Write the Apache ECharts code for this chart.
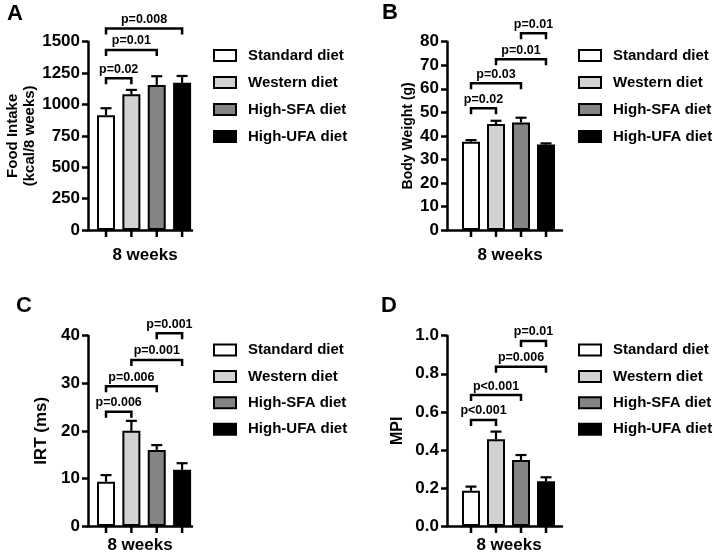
<!DOCTYPE html>
<html>
<head>
<meta charset="utf-8">
<script src="https://cdn.jsdelivr.net/npm/echarts@6/dist/echarts.min.js"></script>
<style>
html,body{margin:0;padding:0;background:#fff;}
#chart{width:714px;height:559px;}
</style>
</head>
<body>
<div id="chart"></div>
<script>
// ---------- data ----------
const diets = ['Standard diet', 'Western diet', 'High-SFA diet', 'High-UFA diet'];
const slots = [1, 2, 3, 4];

const foodMean = [915, 1081, 1155, 1172];
const foodErr = [55, 35, 70, 55];
const weightMean = [37.5, 45.0, 45.7, 36.3];
const weightErr = [0.7, 1.4, 2.0, 0.5];
const irtMean = [9.3, 20.0, 16.0, 11.8];
const irtErr = [1.4, 2.1, 1.0, 1.4];
const mpiMean = [0.185, 0.456, 0.347, 0.235];
const mpiErr = [0.022, 0.040, 0.026, 0.021];

// brackets: [fromBar, toBar, height]
const foodBrackets = [[0, 1, 1208], [0, 2, 1434], [0, 3, 1606]];
const foodLabels = ['p=0.02', 'p=0.01', 'p=0.008'];
const weightBrackets = [[0, 1, 51.7], [0, 2, 62.3], [1, 3, 72.5], [2, 3, 83.6]];
const weightLabels = ['p=0.02', 'p=0.03', 'p=0.01', 'p=0.01'];
const irtBrackets = [[0, 1, 24.0], [0, 2, 29.4], [1, 3, 34.9], [2, 3, 40.5]];
const irtLabels = ['p=0.006', 'p=0.006', 'p=0.001', 'p=0.001'];
const mpiBrackets = [[0, 1, 0.557], [0, 2, 0.688], [1, 3, 0.837], [2, 3, 0.972]];
const mpiLabels = ['p<0.001', 'p<0.001', 'p=0.006', 'p=0.01'];

const foodTicks = {min: 0, max: 1500, interval: 250};
const weightTicks = {min: 0, max: 80, interval: 10};
const irtTicks = {min: 0, max: 40, interval: 10};
const mpiTicks = {min: 0, max: 1, interval: 0.2};

const xLabel = '8 weeks';

// ---------- styles ----------
const FONT = '"Liberation Sans", Arial, Helvetica, sans-serif';
const barColors = ['#ffffff', '#d2d2d2', '#848484', '#000000'];

const panels = [
  {letter: 'A', mean: foodMean, err: foodErr, br: foodBrackets, bl: foodLabels, ticks: foodTicks,
   name: 'Food Intake\n(kcal/8 weeks)', nameSize: 15, nameGap: 50, fmt: v => String(v),
   grid: {left: 88, top: 41.7, width: 104, height: 188.3}, xr: [0.29, 4.39],
   legend: {left: 213, top: 48, gap: 12}, letterPos: [16, 13], xlPos: [145, 255]},
  {letter: 'B', mean: weightMean, err: weightErr, br: weightBrackets, bl: weightLabels, ticks: weightTicks,
   name: 'Body Weight (g)', nameSize: 14, nameGap: 31, fmt: v => String(v),
   grid: {left: 447, top: 41.7, width: 115, height: 188.3}, xr: [0.04, 4.64],
   legend: {left: 578, top: 48, gap: 12}, letterPos: [391, 12], xlPos: [510, 255]},
  {letter: 'C', mean: irtMean, err: irtErr, br: irtBrackets, bl: irtLabels, ticks: irtTicks,
   name: 'IRT (ms)', nameSize: 17, nameGap: 37, fmt: v => String(v),
   grid: {left: 88, top: 335.7, width: 104, height: 190.3}, xr: [0.29, 4.39],
   legend: {left: 213, top: 342.5, gap: 11.4}, letterPos: [25, 305], xlPos: [140, 545]},
  {letter: 'D', mean: mpiMean, err: mpiErr, br: mpiBrackets, bl: mpiLabels, ticks: mpiTicks,
   name: 'MPI', nameSize: 16, nameGap: 40, fmt: v => v.toFixed(1),
   grid: {left: 447, top: 335.7, width: 115, height: 190.3}, xr: [0.04, 4.64],
   legend: {left: 578, top: 342.5, gap: 11.4}, letterPos: [390, 305], xlPos: [509, 545]}
];

const option = {
  backgroundColor: '#fff',
  animation: false,
  textStyle: {fontFamily: FONT},
  grid: [], xAxis: [], yAxis: [], series: [], legend: [], graphic: []
};

panels.forEach((p, pi) => {
  option.grid.push(Object.assign({containLabel: false}, p.grid));
  option.xAxis.push({
    type: 'value', gridIndex: pi, min: p.xr[0], max: p.xr[1],
    axisLine: {show: true, onZero: true, lineStyle: {color: '#000', width: 2.5}},
    axisTick: {show: false}, axisLabel: {show: false}, splitLine: {show: false}
  });
  option.yAxis.push({
    type: 'value', gridIndex: pi, min: p.ticks.min, max: p.ticks.max, interval: p.ticks.interval,
    name: p.name, nameLocation: 'middle', nameRotate: 90, nameGap: p.nameGap,
    nameTextStyle: {fontFamily: FONT, fontWeight: 'bold', fontSize: p.nameSize, color: '#000', lineHeight: p.nameSize + 2},
    axisLine: {show: true, lineStyle: {color: '#000', width: 2.5}},
    axisTick: {show: true, length: 6, lineStyle: {color: '#000', width: 2.5}},
    axisLabel: {color: '#000', fontFamily: FONT, fontWeight: 'bold', fontSize: 17, margin: 8, formatter: p.fmt},
    splitLine: {show: false}
  });
  diets.forEach((d, i) => {
    option.series.push({
      type: 'bar', name: d, xAxisIndex: pi, yAxisIndex: pi,
      barWidth: 18, barGap: '-100%',
      itemStyle: {color: barColors[i], borderColor: '#000', borderWidth: 2},
      data: [[slots[i], p.mean[i]]],
      z: 2
    });
  });
  // error bars + x ticks
  option.series.push({
    type: 'custom', xAxisIndex: pi, yAxisIndex: pi, clip: false, z: 3,
    data: slots.map((s, i) => [s, p.mean[i], p.err[i]]),
    renderItem: (params, api) => {
      const x = api.value(0), m = api.value(1), e = api.value(2);
      const top = api.coord([x, m]);
      const cap = api.coord([x, m + e]);
      const base = api.coord([x, 0]);
      const st = {stroke: '#000', lineWidth: 2.2, fill: null};
      return {type: 'group', children: [
        {type: 'line', shape: {x1: top[0], y1: top[1], x2: cap[0], y2: cap[1]}, style: st},
        {type: 'line', shape: {x1: cap[0] - 5.5, y1: cap[1], x2: cap[0] + 5.5, y2: cap[1]}, style: st},
        {type: 'line', shape: {x1: base[0], y1: base[1], x2: base[0], y2: base[1] + 7}, style: {stroke: '#000', lineWidth: 2.5}}
      ]};
    }
  });
  // significance brackets
  option.series.push({
    type: 'custom', xAxisIndex: pi, yAxisIndex: pi, clip: false, z: 4,
    data: p.br.map(b => [slots[b[0]], slots[b[1]], b[2]]),
    renderItem: (params, api) => {
      const a = api.coord([api.value(0), api.value(2)]);
      const b = api.coord([api.value(1), api.value(2)]);
      return {type: 'group', children: [
        {type: 'polyline', shape: {points: [[a[0], a[1] + 6], a, b, [b[0], b[1] + 6]]},
         style: {stroke: '#000', lineWidth: 2.5, fill: null}},
        {type: 'text', x: (a[0] + b[0]) / 2, y: a[1] - 2.5,
         style: {text: p.bl[params.dataIndex], fill: '#000', font: 'bold 12.5px ' + FONT,
                 textAlign: 'center', textVerticalAlign: 'bottom'}}
      ]};
    }
  });
  option.legend.push({
    data: diets, orient: 'vertical', left: p.legend.left, top: p.legend.top,
    itemWidth: 22, itemHeight: 11, itemGap: p.legend.gap, padding: 0, selectedMode: false,
    icon: 'rect',
    textStyle: {fontFamily: FONT, fontWeight: 'bold', fontSize: 15, color: '#000', padding: [0, 0, 0, 7]}
  });
  option.graphic.push({
    type: 'text', left: p.letterPos[0] - 9, top: p.letterPos[1] - 10,
    style: {text: p.letter, font: 'bold 22px ' + FONT, fill: '#000'}
  });
  option.graphic.push({
    type: 'text', x: p.xlPos[0], y: p.xlPos[1],
    style: {text: xLabel, font: 'bold 17px ' + FONT, fill: '#000', textAlign: 'center', textVerticalAlign: 'middle'}
  });
});

const chart = echarts.init(document.getElementById('chart'), null, {renderer: 'canvas'});
chart.setOption(option);
</script>
</body>
</html>
